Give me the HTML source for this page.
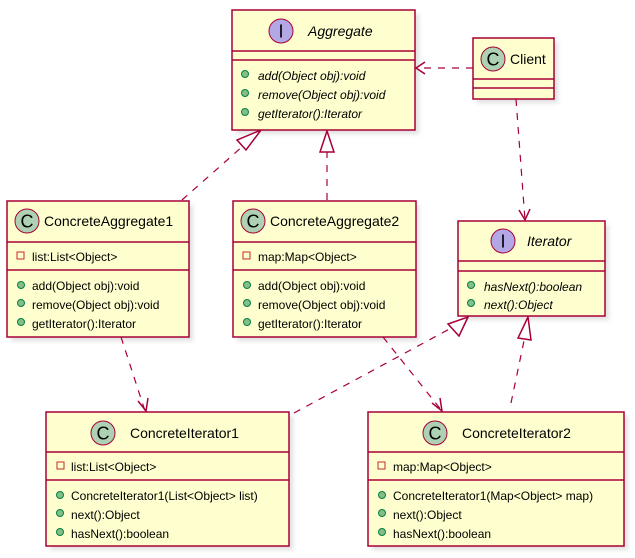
<!DOCTYPE html>
<html><head><meta charset="utf-8"><style>
html,body{margin:0;padding:0;background:#fff;}
svg{display:block;font-family:"Liberation Sans",sans-serif;}
.b{fill:#FEFECE;stroke:#A80036;stroke-width:1.5;}
.sh{fill:#ccc;opacity:.6;}
.l{stroke:#A80036;stroke-width:1.5;}
.d{stroke:#A80036;stroke-width:1.2;fill:none;stroke-dasharray:7,7;}
.t{font-size:14px;fill:#000;}
.m{font-size:12px;fill:#000;}
.i{font-style:italic;}
.pub{fill:#84BE84;stroke:#038048;stroke-width:1;}
.pri{fill:none;stroke:#C82930;stroke-width:1;}
.L{font-size:18px;fill:#000;}
</style></head><body>
<svg width="635" height="558" viewBox="0 0 635 558" xmlns="http://www.w3.org/2000/svg">
<defs>
<filter id="f" x="-10%" y="-10%" width="130%" height="130%"><feGaussianBlur stdDeviation="2"/></filter>
</defs>
<g class="sh" filter="url(#f)">
<rect x="236" y="14" width="183" height="120"/>
<rect x="477" y="42" width="81" height="61"/>
<rect x="11" y="205" width="182" height="136"/>
<rect x="237" y="205" width="182" height="136"/>
<rect x="462" y="225" width="147" height="95"/>
<rect x="50" y="416" width="243" height="134"/>
<rect x="372" y="416" width="256" height="134"/>
</g>

<line class="d" x1="473" y1="68" x2="416" y2="68"/>
<polyline fill="none" class="l" points="425,62 416,68 425,74"/>
<line class="d" x1="516" y1="99" x2="525" y2="220"/>
<polyline fill="none" class="l" points="519,210 525,220 530,209"/>
<line class="d" x1="182" y1="200" x2="243" y2="146"/>
<polygon fill="#fff" class="l" points="261,130 246,150 237,140"/>
<line class="d" x1="327" y1="200" x2="327" y2="152"/>
<polygon fill="#fff" class="l" points="327,131 320,152 334,152"/>
<line class="d" x1="121" y1="337" x2="145" y2="411"/>
<polyline fill="none" class="l" points="138,401 146,411 148,398"/>
<line class="d" x1="383" y1="337" x2="442" y2="411"/>
<polyline fill="none" class="l" points="432,403 442,411 440,398"/>
<line class="d" x1="294" y1="413" x2="455" y2="326"/>
<polygon fill="#fff" class="l" points="468,317 459,336 448,324"/>
<line class="d" x1="511" y1="403" x2="525" y2="336"/>
<polygon fill="#fff" class="l" points="528,317 518,338 531,340"/>

<rect class="b" x="232" y="10" width="183" height="120"/>
<line class="l" x1="232" y1="51" x2="415" y2="51"/>
<line class="l" x1="232" y1="60" x2="415" y2="60"/>
<circle cx="281" cy="31" r="12" fill="#B4A7E5" stroke="#A80036"/>
<text class="L" x="281" y="37.5" text-anchor="middle">I</text>
<text class="t i" x="308" y="36">Aggregate</text>
<circle class="pub" cx="245" cy="74" r="3.5"/><text class="m i" x="258" y="80">add(Object obj):void</text>
<circle class="pub" cx="245" cy="93" r="3.5"/><text class="m i" x="258" y="99">remove(Object obj):void</text>
<circle class="pub" cx="245" cy="112" r="3.5"/><text class="m i" x="258" y="118">getIterator():Iterator</text>

<rect class="b" x="473" y="38" width="81" height="61"/>
<line class="l" x1="473" y1="79" x2="554" y2="79"/>
<line class="l" x1="473" y1="88" x2="554" y2="88"/>
<circle cx="493" cy="59" r="12" fill="#ADD1B2" stroke="#A80036"/>
<text class="L" x="493" y="65.5" text-anchor="middle">C</text>
<text class="t" x="510" y="64">Client</text>

<rect class="b" x="7" y="201" width="182" height="136"/>
<line class="l" x1="7" y1="242" x2="189" y2="242"/>
<line class="l" x1="7" y1="270" x2="189" y2="270"/>
<circle cx="27" cy="221" r="12" fill="#ADD1B2" stroke="#A80036"/>
<text class="L" x="27" y="227.5" text-anchor="middle">C</text>
<text class="t" x="44" y="226">ConcreteAggregate1</text>
<rect class="pri" x="17" y="252" width="7" height="7"/><text class="m" x="32" y="261">list:List&lt;Object&gt;</text>
<circle class="pub" cx="21" cy="285" r="3.5"/><text class="m" x="32" y="290">add(Object obj):void</text>
<circle class="pub" cx="21" cy="303" r="3.5"/><text class="m" x="32" y="309">remove(Object obj):void</text>
<circle class="pub" cx="21" cy="322" r="3.5"/><text class="m" x="32" y="328">getIterator():Iterator</text>

<rect class="b" x="233" y="201" width="183" height="136"/>
<line class="l" x1="233" y1="242" x2="416" y2="242"/>
<line class="l" x1="233" y1="270" x2="416" y2="270"/>
<circle cx="253" cy="221" r="12" fill="#ADD1B2" stroke="#A80036"/>
<text class="L" x="253" y="227.5" text-anchor="middle">C</text>
<text class="t" x="270" y="226">ConcreteAggregate2</text>
<rect class="pri" x="243" y="252" width="7" height="7"/><text class="m" x="258" y="261">map:Map&lt;Object&gt;</text>
<circle class="pub" cx="247" cy="285" r="3.5"/><text class="m" x="258" y="290">add(Object obj):void</text>
<circle class="pub" cx="247" cy="303" r="3.5"/><text class="m" x="258" y="309">remove(Object obj):void</text>
<circle class="pub" cx="247" cy="322" r="3.5"/><text class="m" x="258" y="328">getIterator():Iterator</text>

<rect class="b" x="458" y="221" width="147" height="95"/>
<line class="l" x1="458" y1="261" x2="605" y2="261"/>
<line class="l" x1="458" y1="271" x2="605" y2="271"/>
<circle cx="503" cy="241" r="12" fill="#B4A7E5" stroke="#A80036"/>
<text class="L" x="503" y="247.5" text-anchor="middle">I</text>
<text class="t i" x="527" y="246">Iterator</text>
<circle class="pub" cx="471" cy="285" r="3.5"/><text class="m i" x="484" y="291">hasNext():boolean</text>
<circle class="pub" cx="471" cy="303" r="3.5"/><text class="m i" x="484" y="309">next():Object</text>

<rect class="b" x="46" y="412" width="243" height="134"/>
<line class="l" x1="46" y1="452" x2="289" y2="452"/>
<line class="l" x1="46" y1="480" x2="289" y2="480"/>
<circle cx="103" cy="433" r="12" fill="#ADD1B2" stroke="#A80036"/>
<text class="L" x="103" y="439.5" text-anchor="middle">C</text>
<text class="t" x="130" y="438">ConcreteIterator1</text>
<rect class="pri" x="57" y="462" width="7" height="7"/><text class="m" x="71" y="471">list:List&lt;Object&gt;</text>
<circle class="pub" cx="60" cy="495" r="3.5"/><text class="m" x="71" y="500">ConcreteIterator1(List&lt;Object&gt; list)</text>
<circle class="pub" cx="60" cy="513" r="3.5"/><text class="m" x="71" y="519">next():Object</text>
<circle class="pub" cx="60" cy="532" r="3.5"/><text class="m" x="71" y="538">hasNext():boolean</text>

<rect class="b" x="368" y="412" width="256" height="134"/>
<line class="l" x1="368" y1="452" x2="624" y2="452"/>
<line class="l" x1="368" y1="480" x2="624" y2="480"/>
<circle cx="435" cy="433" r="12" fill="#ADD1B2" stroke="#A80036"/>
<text class="L" x="435" y="439.5" text-anchor="middle">C</text>
<text class="t" x="462" y="438">ConcreteIterator2</text>
<rect class="pri" x="378" y="462" width="7" height="7"/><text class="m" x="393" y="471">map:Map&lt;Object&gt;</text>
<circle class="pub" cx="382" cy="495" r="3.5"/><text class="m" x="393" y="500">ConcreteIterator1(Map&lt;Object&gt; map)</text>
<circle class="pub" cx="382" cy="513" r="3.5"/><text class="m" x="393" y="519">next():Object</text>
<circle class="pub" cx="382" cy="532" r="3.5"/><text class="m" x="393" y="538">hasNext():boolean</text>
</svg>
</body></html>
